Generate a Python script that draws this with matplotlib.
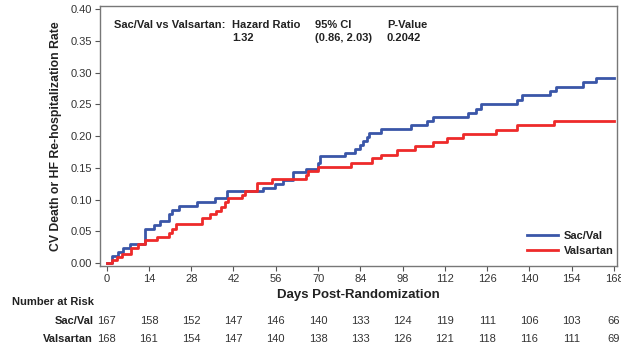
import numpy as np
import matplotlib
matplotlib.use("Agg")
import matplotlib.pyplot as plt
from matplotlib.ticker import FormatStrFormatter

plt.rcParams['font.family'] = ['Liberation Sans', 'DejaVu Sans']

# step curves (day, cumulative event rate)
sacval_days = [0, 1.8, 3.6, 5.5, 7.7, 12.6, 15.8, 17.8, 20.8, 21.8, 23.8, 29.8, 35.9, 39.7,
               51.8, 55.7, 58.5, 61.8, 66, 70, 70.8, 79, 82.2, 83.9, 85, 86.1, 87, 91,
               100.8, 106, 108, 119.7, 122.4, 123.8, 136, 137.7, 146.8, 148.8, 157.8, 162, 168]
sacval_rate = [0, 0.012, 0.018, 0.024, 0.030, 0.054, 0.060, 0.066, 0.077, 0.084, 0.090, 0.096, 0.102, 0.114,
               0.119, 0.125, 0.131, 0.143, 0.149, 0.157, 0.168, 0.174, 0.180, 0.186, 0.192, 0.198, 0.205, 0.211,
               0.217, 0.224, 0.230, 0.236, 0.243, 0.251, 0.257, 0.264, 0.271, 0.278, 0.285, 0.292, 0.292]

valsartan_days = [0, 1.9, 3.5, 5.2, 8, 10.5, 12.6, 16.8, 20.6, 21.8, 23, 31.6, 34.3, 36.2, 38, 39.1, 40.2,
                  44.7, 45.8, 49.7, 54.7, 66, 66.8, 70, 80.9, 88, 91, 96, 102, 108, 112.8, 118,
                  129, 136, 148, 168]
valsartan_rate = [0, 0.005, 0.010, 0.015, 0.024, 0.031, 0.036, 0.042, 0.048, 0.054, 0.062, 0.071, 0.077, 0.083, 0.089, 0.096, 0.103,
                  0.108, 0.114, 0.126, 0.133, 0.139, 0.145, 0.152, 0.158, 0.165, 0.171, 0.178, 0.184, 0.190, 0.197, 0.204,
                  0.210, 0.217, 0.224, 0.224]

risk_days = [0, 14, 28, 42, 56, 70, 84, 98, 112, 126, 140, 154, 168]
risk_sacval = [167, 158, 152, 147, 146, 140, 133, 124, 119, 111, 106, 103, 66]
risk_valsartan = [168, 161, 154, 147, 140, 138, 133, 126, 121, 118, 116, 111, 69]

blue = '#3a56a8'
red = '#ee2a2a'
W, H = 621, 349

fig = plt.figure(figsize=(W / 100, H / 100), dpi=100)
ax = fig.add_axes([100 / W, (H - 266) / H, 517 / W, 260 / H])

ax.step(sacval_days, sacval_rate, where='post', color=blue, lw=2, label='Sac/Val')
ax.step(valsartan_days, valsartan_rate, where='post', color=red, lw=2, label='Valsartan')

ax.set_xlim(-2.2, 169)
ax.set_ylim(-0.0043, 0.4047)
ax.set_xticks(risk_days)
ax.set_yticks(np.arange(0, 0.401, 0.05))
ax.yaxis.set_major_formatter(FormatStrFormatter('%.2f'))
ax.tick_params(labelsize=8, colors='#555555', labelcolor='#333333', length=3.5, width=0.8, pad=2.5)
for s in ax.spines.values():
    s.set_color('#777777')
    s.set_linewidth(1)

ax.set_ylabel('CV Death or HF Re-hospitalization Rate', fontsize=8.8, fontweight='bold', color='#222222')
ax.yaxis.set_label_coords(-0.074, 0.5)
ax.set_xlabel('Days Post-Randomization', fontsize=9.5, fontweight='bold', color='#222222')
ax.xaxis.set_label_coords(0.5, -0.09)

# hazard ratio summary
tk = dict(transform=ax.transAxes, fontsize=8, fontweight='bold', color='#222222', va='center')
ax.text(0.027, 0.927, 'Sac/Val vs Valsartan:', **tk)
ax.text(0.255, 0.927, 'Hazard Ratio', **tk)
ax.text(0.255, 0.876, '1.32', **tk)
ax.text(0.416, 0.927, '95% CI', **tk)
ax.text(0.416, 0.876, '(0.86, 2.03)', **tk)
ax.text(0.555, 0.927, 'P-Value', **tk)
ax.text(0.555, 0.876, '0.2042', **tk)

leg = ax.legend(loc='lower left', bbox_to_anchor=(0.826, 0.04), frameon=False,
                borderpad=0, borderaxespad=0, handlelength=2.8, handletextpad=0.5,
                labelspacing=0.45, prop={'size': 8, 'weight': 'bold'})
for t in leg.get_texts():
    t.set_color('#222222')

# number at risk table
fig.text(12 / W, 1 - 302 / H, 'Number at Risk', fontsize=8, fontweight='bold', color='#222222', va='center')
tr = ax.get_xaxis_transform()
for label, counts, py in [('Sac/Val', risk_sacval, 321), ('Valsartan', risk_valsartan, 338.5)]:
    y = (266 - py) / 260
    ax.text(-0.013, y, label, transform=ax.transAxes, ha='right', va='center',
            fontsize=8, fontweight='bold', color='#222222')
    for d, n in zip(risk_days, counts):
        ax.text(d, y, str(n), transform=tr, ha='center', va='center', fontsize=8,
                color='#333333', clip_on=False)

fig.savefig('out.png', dpi=100)
